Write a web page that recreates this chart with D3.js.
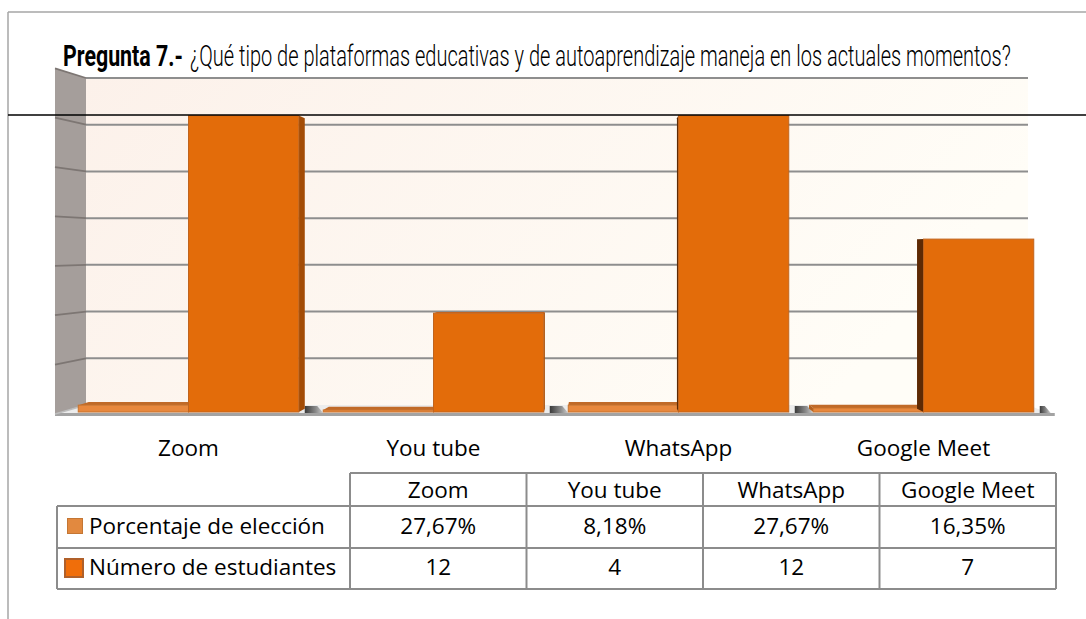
<!DOCTYPE html>
<html><head><meta charset="utf-8">
<script src="https://cdn.jsdelivr.net/npm/d3@7"></script>
<style>body{margin:0;background:#fff} svg{display:block}</style>
</head><body>
<svg id="c" width="1086" height="619"></svg>
<script>
const categories = ["Zoom", "You tube", "WhatsApp", "Google Meet"];
const seriesNames = ["Porcentaje de elección", "Número de estudiantes"];
const porcentaje = [0.2767, 0.0818, 0.2767, 0.1635];
const numero = [12, 4, 12, 7];
const porcentajeLabels = ["27,67%", "8,18%", "27,67%", "16,35%"];
const numeroLabels = ["12", "4", "12", "7"];
const yTicks = [0, 2, 4, 6, 8, 10, 12, 14];
const titleBold = "Pregunta 7.-";
const titleRest = "¿Qué tipo de plataformas educativas y de autoaprendizaje maneja en los actuales momentos?";

const svg = d3.select("#c");
const defs = svg.append("defs");
const FONT = "'Open Sans', 'Noto Sans', sans-serif";

// gradients
const wg = defs.append("linearGradient").attr("id","wallG").attr("x1","0").attr("x2","1").attr("y1","0").attr("y2","0.3");
wg.append("stop").attr("offset","0").attr("stop-color","#fcf1ea");
wg.append("stop").attr("offset","1").attr("stop-color","#fffdf7");
const sg = defs.append("linearGradient").attr("id","shadowG").attr("x1","0").attr("x2","1");
sg.append("stop").attr("offset","0").attr("stop-color","#1a1a1a");
sg.append("stop").attr("offset","0.6").attr("stop-color","#7a7a7a");
sg.append("stop").attr("offset","1").attr("stop-color","#c8c8c8");

// scales
const x0 = d3.scaleBand().domain(categories).range([66, 1046]).paddingInner(0.1).paddingOuter(0.05);
const x1 = d3.scaleBand().domain([0, 1]).range([0, x0.bandwidth()]);
const yFront = d3.scaleLinear().domain([0, 14]).range([412, 412 - 14 * 24.7]);
const yBack = d3.scaleLinear().domain([0, 14]).range([405, 78]);

// wall perspective
const WX0 = 86, WX1 = 1028, VX = 629, VY = 247.5, F = 0.054;
const toFront = (x, y) => [(x - VX * F) / (1 - F), (y - VY * F) / (1 - F)];
// bar perspective
const BVX = 600, BVY = 247, BF = 0.02;
const back = (x, y) => [x + (BVX - x) * BF, y + (BVY - y) * BF];

// frame
svg.append("line").attr("x1", 8).attr("x2", 1086).attr("y1", 12).attr("y2", 12).attr("stroke", "#a6a6a6").attr("stroke-width", 1.5);
svg.append("line").attr("x1", 8).attr("x2", 8).attr("y1", 12).attr("y2", 619).attr("stroke", "#a6a6a6").attr("stroke-width", 1.5);

// back wall
const yTop = yBack(14), yBot = yBack(0);
svg.append("rect").attr("x", WX0).attr("y", yTop).attr("width", WX1 - WX0).attr("height", yBot - yTop).attr("fill", "url(#wallG)");

// left wall
const lf0 = toFront(WX0, yTop), lf1 = toFront(WX0, yBot);
svg.append("polygon").attr("points", [[lf0[0], lf0[1]], [WX0, yTop], [WX0, yBot], [lf1[0], lf1[1]]].map(p => p.join(",")).join(" "))
  .attr("fill", "#a59e9b");

// floor
const ff0 = toFront(WX0, yBot), ff1 = toFront(WX1, yBot);
svg.append("polygon").attr("points", [[WX0, yBot], [WX1, yBot], ff1, ff0].map(p => p.join(",")).join(" "))
  .attr("fill", "#ececec");

// gridlines
yTicks.forEach(t => {
  const y = yBack(t);
  if (t > 0) svg.append("line").attr("x1", WX0).attr("x2", WX1).attr("y1", y).attr("y2", y).attr("stroke", "#8e8e8e").attr("stroke-width", 2);
  const f = toFront(WX0, y);
  if (t > 0) svg.append("line").attr("x1", f[0]).attr("y1", f[1]).attr("x2", WX0).attr("y2", y).attr("stroke", "#7d7673").attr("stroke-width", 1.8);
});

// shadow strips in gaps on the floor
categories.forEach((c, i) => {
  const s = x0(c) + x0.bandwidth() + 6;
  const e = i < categories.length - 1 ? x0(categories[i + 1]) : ff1[0];
  svg.append("polygon").attr("points", [[s, 406], [e - 6, 406], [e, 413], [s, 413]].map(p => p.join(",")).join(" "))
    .attr("fill", "url(#shadowG)").attr("opacity", 0.85);
});

// floor front edge
svg.append("line").attr("x1", ff0[0]).attr("x2", ff1[0] + 4).attr("y1", ff0[1] + 0.5).attr("y2", ff0[1] + 0.5).attr("stroke", "#a3a3a3").attr("stroke-width", 3);
svg.append("line").attr("x1", ff0[0]).attr("y1", ff0[1]).attr("x2", WX0).attr("y2", yBot).attr("stroke", "#bdbdbd").attr("stroke-width", 1.5);

// bars
const seriesStyle = [
  { front: "#e8883d", side: "#b3601e", top: "#c06a28", edge: "#c8732e" },
  { front: "#e36c0a", side: "#a34c06", sideL: "#5e2a04", top: "#c8641c", edge: "#c0641e" }
];
function drawBar(xl, xr, yt, yb, st) {
  const g = svg.append("g");
  if (xr < BVX) {
    const a = back(xr, yt), b = back(xr, yb);
    g.append("polygon").attr("points", [[xr, yt], a, b, [xr, yb]].map(p => p.join(",")).join(" ")).attr("fill", st.side);
  } else if (xl > BVX) {
    const a = back(xl, yt), b = back(xl, yb);
    g.append("polygon").attr("points", [[xl, yt], a, b, [xl, yb]].map(p => p.join(",")).join(" ")).attr("fill", st.sideL || st.side);
  }
  if (yt > BVY) {
    const a = back(xl, yt), b = back(xr, yt);
    g.append("polygon").attr("points", [[xl, yt], a, b, [xr, yt]].map(p => p.join(",")).join(" ")).attr("fill", st.top);
  }
  g.append("rect").attr("x", xl).attr("y", yt).attr("width", xr - xl).attr("height", yb - yt)
    .attr("fill", st.front).attr("stroke", st.edge).attr("stroke-width", 1);
}
categories.forEach((c, i) => {
  const vals = [porcentaje[i], numero[i]];
  vals.forEach((v, s) => {
    const xl = x0(c) + x1(s), xr = xl + x1.bandwidth();
    drawBar(xl, xr, yFront(v), yFront(0), seriesStyle[s]);
  });
});

// category labels
svg.append("g").selectAll("text").data(categories).join("text")
  .attr("x", d => x0(d) + x0.bandwidth() / 2).attr("y", 456)
  .attr("text-anchor", "middle").attr("font-family", FONT).attr("font-size", 22.5).attr("fill", "#000")
  .text(d => d);

// title (condensed via horizontal scaling)
function condensed(x, y, txt, weight, targetW) {
  const t = svg.append("text").attr("font-family", "Roboto, sans-serif").attr("font-weight", weight)
    .attr("font-size", 29).attr("fill", "#000").text(txt);
  const w = t.node().getComputedTextLength();
  t.attr("transform", `translate(${x},${y}) scale(${targetW / w},1)`);
}
condensed(63, 66, titleBold, 700, 120);
condensed(190, 66, titleRest, 300, 821);

// black line
svg.append("line").attr("x1", 8).attr("x2", 1086).attr("y1", 115).attr("y2", 115).attr("stroke", "#000").attr("stroke-width", 1.6);

// data table
const tx = d3.scaleBand().domain(categories).range([350, 1056]);
const rows = [473, 506, 548, 589];
const tg = svg.append("g");
const TS = "#8c8c8c";
tg.append("line").attr("x1", 350).attr("x2", 1056).attr("y1", rows[0]).attr("y2", rows[0]).attr("stroke", TS).attr("stroke-width", 2);
[1, 2, 3].forEach(r => tg.append("line").attr("x1", 57).attr("x2", 1056).attr("y1", rows[r]).attr("y2", rows[r]).attr("stroke", TS).attr("stroke-width", 2));
tg.append("line").attr("x1", 57).attr("x2", 57).attr("y1", rows[1]).attr("y2", rows[3]).attr("stroke", TS).attr("stroke-width", 2);
categories.forEach(c => tg.append("line").attr("x1", tx(c)).attr("x2", tx(c)).attr("y1", rows[0]).attr("y2", rows[3]).attr("stroke", TS).attr("stroke-width", 2));
tg.append("line").attr("x1", 1056).attr("x2", 1056).attr("y1", rows[0]).attr("y2", rows[3]).attr("stroke", TS).attr("stroke-width", 2);

const cellText = (x, y, t, anchor) => tg.append("text").attr("x", x).attr("y", y).attr("text-anchor", anchor || "middle")
  .attr("font-family", FONT).attr("font-size", 22.5).attr("fill", "#000").text(t);
categories.forEach((c, i) => {
  const cx = tx(c) + tx.bandwidth() / 2;
  cellText(cx, 498, c);
  cellText(cx, 534, porcentajeLabels[i]);
  cellText(cx, 575, numeroLabels[i]);
});
tg.append("rect").attr("x", 67.5).attr("y", 518.5).attr("width", 15).attr("height", 15).attr("fill", "#e2893f").attr("stroke", "#c47634").attr("stroke-width", 1);
tg.append("rect").attr("x", 65).attr("y", 559).attr("width", 18).attr("height", 18).attr("fill", "#f06e0a").attr("stroke", "#b0602a").attr("stroke-width", 2);
cellText(89, 534, seriesNames[0], "start");
cellText(89, 575, seriesNames[1], "start");
</script>
</body></html>
